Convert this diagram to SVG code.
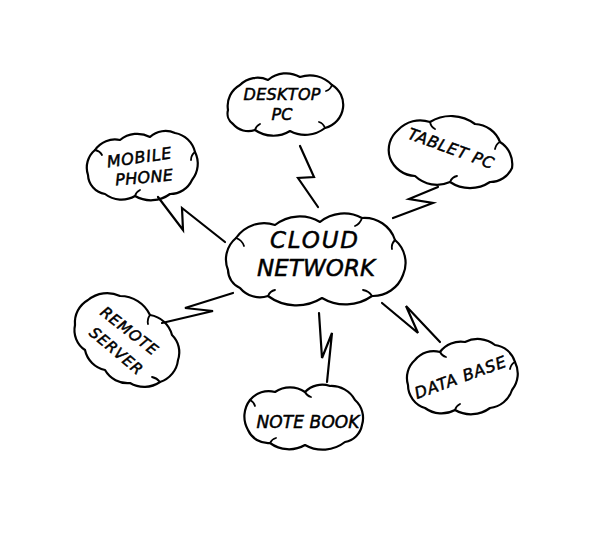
<svg xmlns="http://www.w3.org/2000/svg" width="600" height="533" viewBox="0 0 600 533">
<style>
.c{fill:none;stroke:#000;stroke-width:2.2;stroke-linejoin:round;stroke-linecap:round}
.h{fill:none;stroke:#000;stroke-width:1.8;stroke-linecap:round}
.z{fill:none;stroke:#000;stroke-width:2.2;stroke-linejoin:miter;stroke-linecap:round}
.t{font-family:"DejaVu Sans","Liberation Sans",sans-serif;font-style:oblique;fill:#000;stroke:#000;stroke-width:0.5;text-anchor:middle}
</style>
<rect width="600" height="533" fill="#fff"/>
<g id="connectors">
<polyline class="z" points="158,197 183,230 182,208 225,242"/>
<polyline class="z" points="300,146 314,177 298,178 318,207"/>
<polyline class="z" points="438,187 409,199 433,203 393,218"/>
<polyline class="z" points="162,323 213,311 185,308 233,293"/>
<polyline class="z" points="319,313 322,358 332,333 327,382"/>
<polyline class="z" points="382,303 418,333 406,306 440,342"/>
</g>
<g id="cloud-network">
<path class="c" d="M228,270 A28,28 0 0 1 236,238 A34,34 0 0 1 275,225 A40,40 0 0 1 320,222 A38,38 0 0 1 362,218 A32,32 0 0 1 395,240 A30,30 0 0 1 403,275 A32,32 0 0 1 372,296 A46,46 0 0 1 322,298 A48,48 0 0 1 268,296 A26,26 0 0 1 240,288 A20,20 0 0 1 228,270 Z"/>
<path class="h" d="M236,238 q6,2 8,8 M362,218 q-2,6 -7,8 M395,240 q-4,4 -3,9 M372,296 q-3,-5 -9,-6 M268,296 q2,-5 7,-6"/>
<text class="t" x="314" y="248" font-size="23" textLength="88">CLOUD</text>
<text class="t" x="316" y="276" font-size="23" textLength="118">NETWORK</text>
</g>
<g id="desktop-pc">
<path class="c" d="M228,110 A24,24 0 0 1 240,85 A25,25 0 0 1 268,80 A28,28 0 0 1 300,77 A30,30 0 0 1 332,85 A23,23 0 0 1 343,108 A24,24 0 0 1 325,128 A32,32 0 0 1 290,131 A32,32 0 0 1 255,130 A20,20 0 0 1 233,124 A13,13 0 0 1 228,110 Z"/>
<path class="h" d="M332,85 q-2,5 -6,6 M325,128 q-2,-5 -6,-6 M255,130 q1,-4 5,-6"/>
<text class="t" x="282" y="100" font-size="16" textLength="77">DESKTOP</text>
<text class="t" x="282" y="120" font-size="16">PC</text>
</g>
<g id="tablet-pc">
<path class="c" d="M390,158 A26,26 0 0 1 398,130 A30,30 0 0 1 430,122 A40,40 0 0 1 475,124 A28,28 0 0 1 500,142 A26,26 0 0 1 512,168 A24,24 0 0 1 490,182 A36,36 0 0 1 450,182 A32,32 0 0 1 415,176 A28,28 0 0 1 390,158 Z"/>
<path class="h" d="M430,122 q1,5 5,7 M500,142 q-4,2 -5,7 M450,182 q2,-5 7,-6"/>
<text class="t" font-size="16" transform="translate(451,148) rotate(20)" y="6" textLength="90">TABLET PC</text>
</g>
<g id="mobile-phone">
<path class="c" d="M88,175 A23,23 0 0 1 95,150 A24,24 0 0 1 120,140 A27,27 0 0 1 150,137 A23,23 0 0 1 175,133 A25,25 0 0 1 195,152 A26,26 0 0 1 192,180 A24,24 0 0 1 170,194 A32,32 0 0 1 135,196 A27,27 0 0 1 105,194 A20,20 0 0 1 88,175 Z"/>
<path class="h" d="M95,150 q5,1 7,5 M195,152 q-4,3 -4,8 M135,196 q1,-4 5,-6"/>
<text class="t" font-size="16" transform="translate(139,157) rotate(-8)" y="6" textLength="65">MOBILE</text>
<text class="t" font-size="16" transform="translate(144,177) rotate(-5)" y="6" textLength="58">PHONE</text>
</g>
<g id="remote-server">
<path class="c" d="M75,325 A26,26 0 0 1 88,300 A30,30 0 0 1 120,296 A33,33 0 0 1 150,315 A27,27 0 0 1 172,335 A24,24 0 0 1 178,360 A26,26 0 0 1 160,382 A28,28 0 0 1 130,383 A26,26 0 0 1 105,370 A26,26 0 0 1 85,350 A24,24 0 0 1 75,325 Z"/>
<path class="h" d="M150,315 q-3,4 -2,9 M160,382 q-3,-4 -8,-5"/>
<text class="t" font-size="15" transform="translate(129,331) rotate(38)" y="5" textLength="68">REMOTE</text>
<text class="t" font-size="15" transform="translate(116,351) rotate(40)" y="5" textLength="64">SERVER</text>
</g>
<g id="data-base">
<path class="c" d="M408,385 A24,24 0 0 1 415,360 A24,24 0 0 1 440,352 A26,26 0 0 1 465,342 A28,28 0 0 1 495,345 A24,24 0 0 1 515,362 A26,26 0 0 1 512,390 A26,26 0 0 1 490,408 A32,32 0 0 1 455,410 A28,28 0 0 1 425,408 A24,24 0 0 1 408,385 Z"/>
<path class="h" d="M440,352 q2,4 6,5 M515,362 q-4,2 -5,7 M455,410 q1,-4 5,-6"/>
<text class="t" font-size="16" transform="translate(460,377) rotate(-20)" y="6" textLength="96">DATA BASE</text>
</g>
<g id="note-book">
<path class="c" d="M248,430 A27,27 0 0 1 250,400 A24,24 0 0 1 275,392 A27,27 0 0 1 305,392 A24,24 0 0 1 330,386 A27,27 0 0 1 355,400 A24,24 0 0 1 362,425 A21,21 0 0 1 345,442 A36,36 0 0 1 305,445 A32,32 0 0 1 270,443 A22,22 0 0 1 248,430 Z"/>
<path class="h" d="M305,392 q2,4 6,5 M250,400 q4,2 5,6 M270,443 q2,-4 6,-5"/>
<text class="t" x="308" y="428" font-size="17" textLength="103">NOTE BOOK</text>
</g>
</svg>
